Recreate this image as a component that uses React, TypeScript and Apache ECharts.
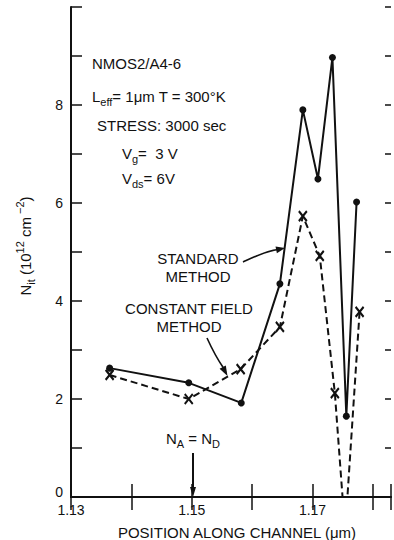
import React, { useEffect, useRef } from "react";
import * as echarts from "echarts";

// Standard method (solid, filled circles)
const standardX = [1.1364, 1.1495, 1.1582, 1.1646, 1.1684, 1.1709, 1.1733, 1.1756, 1.1773];
const standardY = [2.63, 2.33, 1.92, 4.35, 7.9, 6.49, 8.97, 1.65, 6.02];
// Constant field method (dashed, x markers)
const constantX = [1.1364, 1.1495, 1.1581, 1.1646, 1.1684, 1.1712, 1.1737, 1.1754, 1.1778];
const constantY = [2.49, 2.0, 2.61, 3.47, 5.73, 4.92, 2.12, -0.71, 3.78];

const xMin = 1.13;
const xMax = 1.183;
const xStep = 0.01;
const yMin = 0;
const yMax = 10;
const yStep = 1;

const FONT = '"Liberation Sans", Arial, Helvetica, sans-serif';
const INK = "#111";

const richBase = {
  m: { fontSize: 15, fontFamily: FONT, lineHeight: 22, verticalAlign: "middle" },
  s: { fontSize: 11, fontFamily: FONT, lineHeight: 11, verticalAlign: "bottom" },
  p: { fontSize: 11, fontFamily: FONT, lineHeight: 11, verticalAlign: "top" },
};

function txt(text: string, x: number, y: number, align: string = "left", extra: any = {}) {
  return {
    type: "text",
    x,
    y,
    ...extra,
    style: {
      text,
      fill: INK,
      fontSize: 15,
      fontFamily: FONT,
      align,
      verticalAlign: "middle",
      rich: richBase,
    },
  };
}

export default function App() {
  const ref = useRef<HTMLDivElement>(null);
  useEffect(() => {
    if (!ref.current) return;
    const chart = echarts.init(ref.current, undefined, { renderer: "svg" });
    const stdData = standardX.map((x, i) => [x, standardY[i]]);
    const cfData = constantX.map((x, i) => [x, constantY[i]]);
    const axisLineStyle = { color: INK, width: 2 };
    const option: any = {
      animation: false,
      backgroundColor: "#fff",
      grid: { left: 71, right: 0, top: 7, bottom: 43, containLabel: false },
      xAxis: [
        {
          type: "value",
          position: "bottom",
          min: xMin,
          max: xMax,
          interval: xStep,
          axisLine: { show: true, lineStyle: axisLineStyle },
          axisTick: { show: true, inside: true, length: 13, lineStyle: { color: INK, width: 1.5 } },
          splitLine: { show: false },
          axisLabel: {
            show: true,
            margin: 6,
            fontSize: 14,
            fontFamily: FONT,
            color: INK,
            formatter: (v: number) => {
              const k = Math.round(v * 100);
              return k % 2 === 1 && Math.abs(v * 100 - k) < 1e-6 ? v.toFixed(2) : "";
            },
          },
        },
        {
          type: "value",
          position: "top",
          min: xMin,
          max: xMax,
          interval: xStep,
          axisLine: { show: true, lineStyle: { color: INK, width: 1.5 } },
          axisTick: { show: true, inside: true, length: 13, lineStyle: { color: INK, width: 1.5 } },
          splitLine: { show: false },
          axisLabel: { show: false },
        },
      ],
      yAxis: [
        {
          type: "value",
          position: "left",
          min: yMin,
          max: yMax,
          interval: yStep,
          axisLine: { show: true, lineStyle: axisLineStyle },
          axisTick: { show: true, inside: true, length: 11, lineStyle: { color: INK, width: 1.5 } },
          splitLine: { show: false },
          axisLabel: {
            show: true,
            margin: 8,
            fontSize: 14,
            fontFamily: FONT,
            color: INK,
            formatter: (v: number) => {
              if (v === 0) return "{z|0}";
              return v % 2 === 0 && v < yMax ? String(v) : "";
            },
            rich: {
              z: { fontSize: 14, fontFamily: FONT, color: INK, padding: [0, 0, 10, 0] },
            },
          },
        },
        {
          type: "value",
          position: "right",
          min: yMin,
          max: yMax,
          interval: yStep,
          axisLine: { show: false },
          axisTick: { show: true, inside: true, length: 6, lineStyle: { color: INK, width: 1.5 } },
          splitLine: { show: false },
          axisLabel: { show: false },
        },
      ],
      series: [
        {
          name: "STANDARD METHOD",
          type: "line",
          data: stdData,
          xAxisIndex: 0,
          yAxisIndex: 0,
          clip: true,
          symbol: "circle",
          symbolSize: 7,
          itemStyle: { color: INK },
          lineStyle: { color: INK, width: 2 },
          z: 3,
        },
        {
          name: "CONSTANT FIELD METHOD",
          type: "line",
          data: cfData,
          xAxisIndex: 0,
          yAxisIndex: 0,
          clip: true,
          symbol: "path://M0,0L10,12M10,0L0,12",
          symbolSize: [8, 10],
          itemStyle: { color: INK, borderColor: INK, borderWidth: 2.2 },
          lineStyle: { color: INK, width: 2, type: [7, 4] },
          z: 2,
        },
      ],
      graphic: [
        txt("NMOS2/A4-6", 92, 63),
        txt("{m|L}{s|eff}{m|= 1μm T = 300°K}", 92, 96),
        txt("STRESS: 3000 sec", 97, 125),
        txt("{m|V}{s|g}{m|=  3 V}", 122, 153),
        txt("{m|V}{s|ds}{m|= 6V}", 122, 178),
        txt("STANDARD", 198, 258, "center"),
        txt("METHOD", 198, 276, "center"),
        txt("CONSTANT FIELD", 189, 308, "center"),
        txt("METHOD", 189, 326, "center"),
        txt("{m|N}{s|A}{m| = N}{s|D}", 193, 438, "center"),
        txt("POSITION ALONG CHANNEL (μm)", 237, 532, "center"),
        txt("{m|N}{s|it}{m| (10}{p|12}{m| cm}{p| −2}{m|)}", 25, 246, "center", { rotation: Math.PI / 2 }),
        // standard arrow
        {
          type: "bezierCurve",
          shape: { x1: 243, y1: 262, cpx1: 256, cpy1: 256, cpx2: 266, cpy2: 251, x2: 278, y2: 249.5 },
          style: { stroke: INK, lineWidth: 1.6, fill: null },
        },
        {
          type: "polygon",
          shape: { points: [[285, 248], [276.9, 253.2], [275.5, 246.4]] },
          style: { fill: INK },
        },
        // constant field arrow
        {
          type: "bezierCurve",
          shape: { x1: 207, y1: 338, cpx1: 212, cpy1: 349, cpx2: 218, cpy2: 360, x2: 223.5, y2: 368 },
          style: { stroke: INK, lineWidth: 1.6, fill: null },
        },
        {
          type: "polygon",
          shape: { points: [[227.5, 376], [225.8, 365.4], [219.6, 368.8]] },
          style: { fill: INK },
        },
        // N_A = N_D arrow
        {
          type: "line",
          shape: { x1: 193, y1: 453, x2: 193, y2: 489 },
          style: { stroke: INK, lineWidth: 2 },
        },
        {
          type: "polygon",
          shape: { points: [[193, 497], [190, 487], [196, 487]] },
          style: { fill: INK },
        },
      ],
    };
    chart.setOption(option);
    return () => chart.dispose();
  }, []);
  return <div ref={ref} style={{ width: 394, height: 540, position: "absolute", left: 0, top: 0, background: "#fff" }} />;
}
